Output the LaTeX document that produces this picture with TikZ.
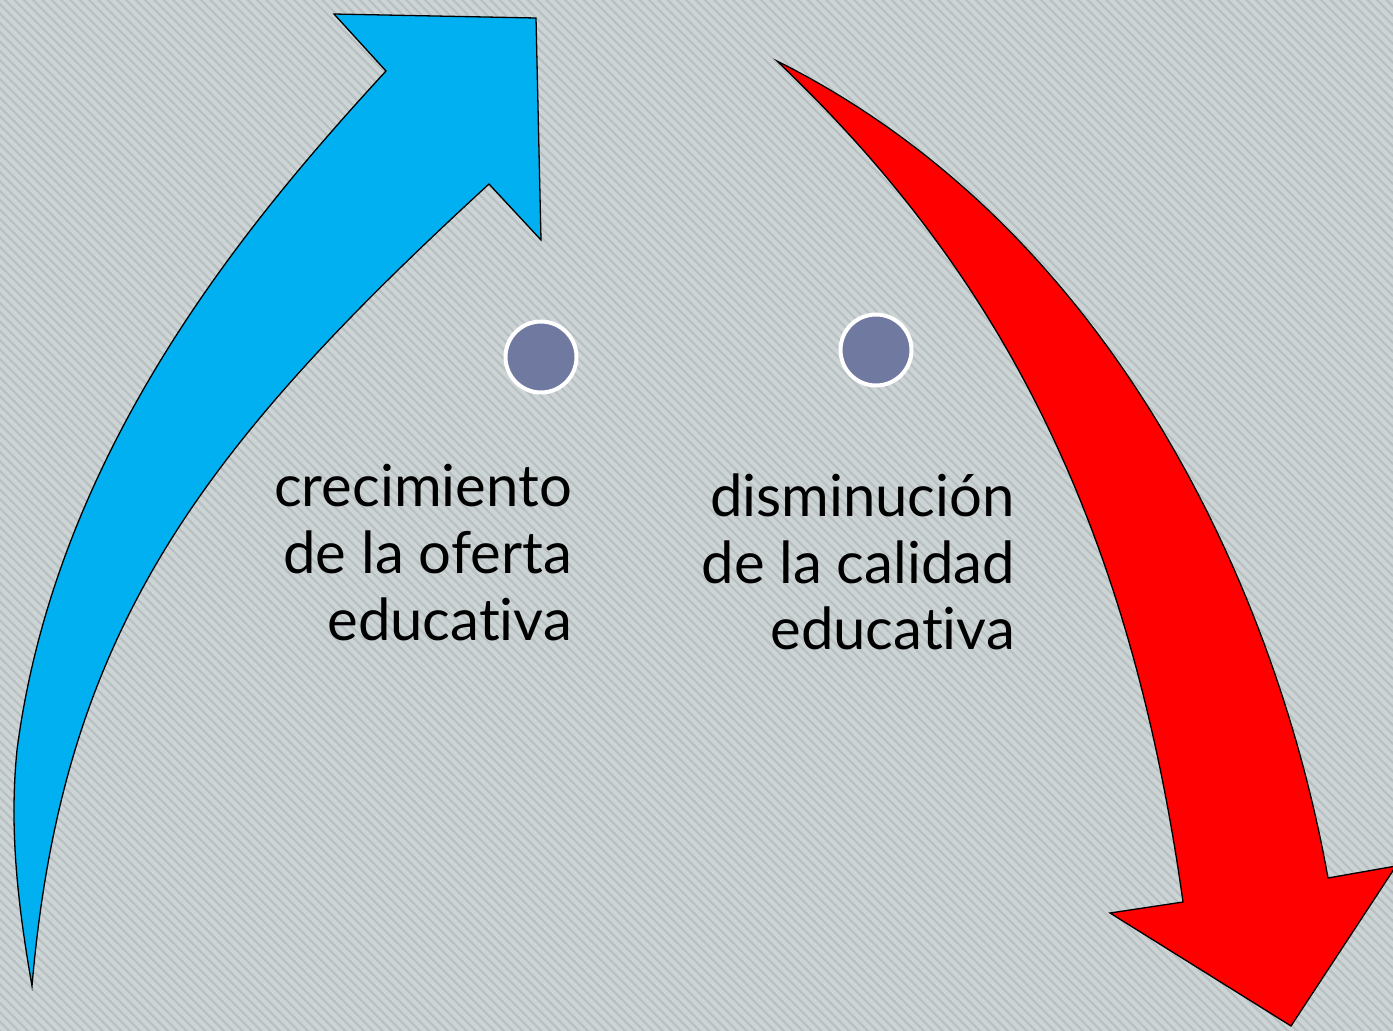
\documentclass[tikz,border=0pt]{standalone}
\usepackage{fontspec}
\setmainfont{Lato}[Ligatures={NoCommon,NoRequired,NoContextual}]
\usetikzlibrary{patterns.meta}
\definecolor{bgbase}{RGB}{205,212,213}
\definecolor{bgline}{RGB}{184,192,194}
\definecolor{arrowblue}{RGB}{0,176,240}
\definecolor{arrowred}{RGB}{255,0,0}
\definecolor{dotfill}{RGB}{112,122,160}
\tikzset{
  arrowshape/.style={draw=black, line width=1.3pt, line join=miter},
  dot/.style={circle, fill=dotfill, draw=white, line width=4pt, minimum size=71pt, inner sep=0pt},
  lbl/.style={anchor=base east, inner sep=0pt, font=\fontsize{58}{67}\selectfont, text=black},
}
\begin{document}
\begin{tikzpicture}[x=1pt,y=-1pt]
\useasboundingbox (0,0) rectangle (1393,1031);
\fill[bgbase] (0,0) rectangle (1393,1031);
\fill[pattern={Lines[angle=-45,distance=6.6pt,line width=2.2pt]}, pattern color=bgline] (0,0) rectangle (1393,1031);

% blue arrow
\draw[arrowshape, fill=arrowblue]
  (32,986) .. controls (18,906) and (9,830) .. (17,750)
  .. controls (56,450) and (248,221) .. (386,71)
  -- (334,14) -- (536,18) -- (541,240) -- (489,184)
  .. controls (195,454) and (62,636) .. (32,986)
  -- cycle;

% red arrow
\draw[arrowshape, fill=arrowred]
  (777,61) .. controls (1117,231) and (1278,598) .. (1328,878)
  -- (1396,866) -- (1291,1026) -- (1110,913) -- (1183,902)
  .. controls (1127,502) and (987,261) .. (777,61)
  -- cycle;

\node[dot] (c1) at (541,357) {};
\node[dot] (c2) at (876,350) {};

\node[lbl] (l1a) at (572,506) {crecimiento};
\node[lbl] (l1b) at (572,573) {de la oferta};
\node[lbl] (l1c) at (572,640) {educativa};

\node[lbl] (l2a) at (1015,516) {disminución};
\node[lbl] (l2b) at (1015,583) {de la calidad};
\node[lbl] (l2c) at (1015,649) {educativa};
\end{tikzpicture}
\end{document}
